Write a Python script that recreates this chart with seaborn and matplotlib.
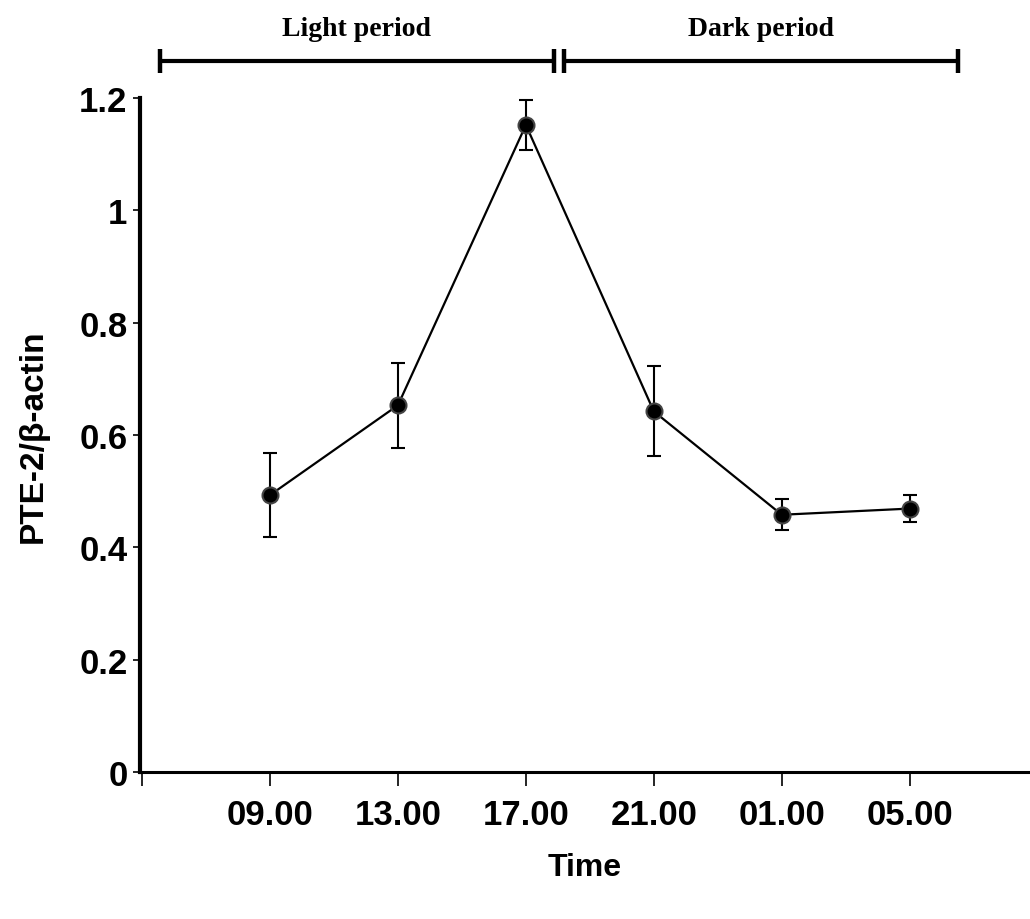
import matplotlib
matplotlib.use("Agg")
import matplotlib.pyplot as plt
import seaborn as sns
import numpy as np
import pandas as pd

times = ["09.00", "13.00", "17.00", "21.00", "01.00", "05.00"]
means = [0.493, 0.653, 1.152, 0.642, 0.458, 0.469]
errs = [0.075, 0.076, 0.045, 0.080, 0.028, 0.024]
period_labels = ["Light period", "Dark period"]

sns.set_theme(style="ticks")
plt.rcParams['font.family'] = ['Liberation Sans', 'DejaVu Sans']

fig = plt.figure(figsize=(10.3, 9.2), dpi=100)
ax = fig.add_axes([140/1030, (920-773)/920, 1 - 140/1030, (773-99)/920])

xpos = np.arange(1, len(times) + 1)
df = pd.DataFrame({"x": xpos, "y": means})

ax.errorbar(xpos, means, yerr=errs, fmt='none', ecolor='black',
            elinewidth=1.5, capsize=5, capthick=1.5, zorder=2)
sns.lineplot(data=df, x="x", y="y", ax=ax, color='black', linewidth=1.6,
             marker='o', markersize=11.5, markerfacecolor='black',
             markeredgecolor='#444444', markeredgewidth=1.5, zorder=3)

ax.set_xlim(-0.016, 6.94)
ax.set_ylim(0, 1.2)
ax.set_xticks(np.arange(0, len(times) + 1))
ax.set_xticklabels([""] + times)
ax.set_yticks([0, 0.2, 0.4, 0.6, 0.8, 1.0, 1.2])
ax.set_yticklabels(["0", "0.2", "0.4", "0.6", "0.8", "1", "1.2"])

for lab in ax.get_xticklabels() + ax.get_yticklabels():
    lab.set_fontweight('bold')
    lab.set_fontsize(25)
    lab.set_color('black')

ax.tick_params(axis='x', length=10, width=1.2, pad=9, colors='black')
ax.tick_params(axis='y', length=5, width=1.2, pad=4, colors='black')

for s in ['top', 'right']:
    ax.spines[s].set_visible(False)
ax.spines['left'].set_linewidth(3)
ax.spines['bottom'].set_linewidth(2.2)
ax.spines['left'].set_color('black')
ax.spines['bottom'].set_color('black')

ax.set_xlabel("Time", fontsize=23, fontweight='bold', labelpad=15, color='black')
ax.set_ylabel("PTE-2/β-actin", fontsize=24, fontweight='bold', labelpad=22, color='black')

# period brackets
by = 1.266
ch = 0.021
for (x0, x1), lab in zip([(0.14, 3.22), (3.30, 6.38)], period_labels):
    ax.plot([x0, x1], [by, by], color='black', lw=3, clip_on=False, solid_capstyle='butt')
    ax.plot([x0, x0], [by - ch, by + ch], color='black', lw=3.2, clip_on=False, solid_capstyle='butt')
    ax.plot([x1, x1], [by - ch, by + ch], color='black', lw=3.2, clip_on=False, solid_capstyle='butt')
    ax.text((x0 + x1) / 2, by + 0.058, lab, ha='center', va='center',
            fontsize=20, fontweight='bold', family=['Liberation Serif', 'DejaVu Serif'],
            color='black')

fig.savefig("out.png", dpi=100)
